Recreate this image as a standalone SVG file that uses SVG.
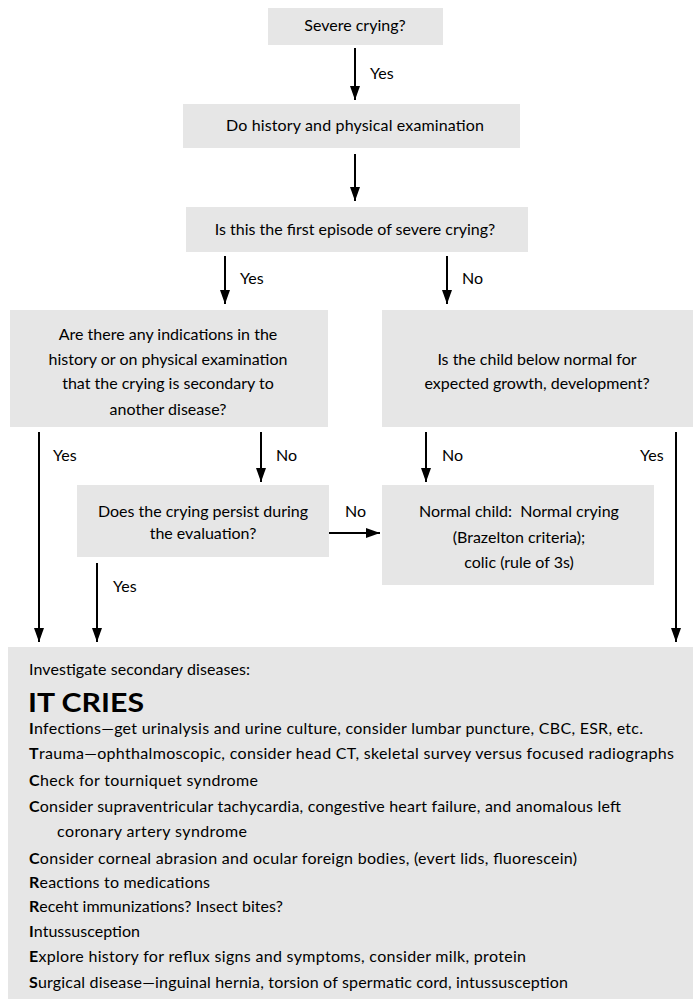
<svg xmlns="http://www.w3.org/2000/svg" width="693" height="999" viewBox="0 0 693 999">
<style>
.box{fill:#e6e6e6}
text{font-family:Lato,"Liberation Sans",sans-serif;fill:#000;font-size:16px}
.c{text-anchor:middle}
.b{font-weight:bold}
.conn line{stroke:#000;stroke-width:2;marker-end:url(#ah)}
</style>
<defs>
<marker id="ah" viewBox="0 0 14 10" refX="14" refY="5" markerWidth="14" markerHeight="10" markerUnits="userSpaceOnUse" orient="auto">
<path d="M0,0 L14,5 L0,10 z" fill="#000"/>
</marker>
</defs>
<rect width="693" height="999" fill="#fff"/>
<g id="n1"><rect class="box" x="268" y="8" width="175" height="37"/><text class="c" x="355" y="31">Severe crying?</text></g>
<g id="n2"><rect class="box" x="183" y="104" width="337" height="44"/><text class="c" x="355" y="131" textLength="258">Do history and physical examination</text></g>
<g id="n3"><rect class="box" x="186" y="207" width="342" height="45"/><text class="c" x="355" y="235">Is this the first episode of severe crying?</text></g>
<g id="n4"><rect class="box" x="10" y="310" width="318" height="117"/>
<text class="c" x="168" y="340">Are there any indications in the</text>
<text class="c" x="168" y="365">history or on physical examination</text>
<text class="c" x="168" y="389">that the crying is secondary to</text>
<text class="c" x="168" y="415">another disease?</text></g>
<g id="n5"><rect class="box" x="382" y="310" width="311" height="117"/>
<text class="c" x="537" y="365">Is the child below normal for</text>
<text class="c" x="537" y="389">expected growth, development?</text></g>
<g id="n6"><rect class="box" x="77" y="485" width="252" height="72"/>
<text class="c" x="203" y="517">Does the crying persist during</text>
<text class="c" x="203" y="539">the evaluation?</text></g>
<g id="n7"><rect class="box" x="382" y="485" width="272" height="100"/>
<text class="c" x="519" y="517">Normal child:&#160; Normal crying</text>
<text class="c" x="519" y="543">(Brazelton criteria);</text>
<text class="c" x="519" y="568">colic (rule of 3s)</text></g>
<g id="n8"><rect class="box" x="8" y="647" width="685" height="352"/>
<text x="29" y="675" textLength="221">Investigate secondary diseases:</text>
<text x="28" y="712" class="b" style="font-size:27px" textLength="116" lengthAdjust="spacingAndGlyphs">IT CRIES</text>
<text x="29" y="734" textLength="614"><tspan class="b">I</tspan>nfections—get urinalysis and urine culture, consider lumbar puncture, CBC, ESR, etc.</text>
<text x="29" y="759" textLength="645"><tspan class="b">T</tspan>rauma—ophthalmoscopic, consider head CT, skeletal survey versus focused radiographs</text>
<text x="29" y="786" textLength="229"><tspan class="b">C</tspan>heck for tourniquet syndrome</text>
<text x="29" y="812" textLength="592"><tspan class="b">C</tspan>onsider supraventricular tachycardia, congestive heart failure, and anomalous left</text>
<text x="57" y="837" textLength="190">coronary artery syndrome</text>
<text x="29" y="864" textLength="548"><tspan class="b">C</tspan>onsider corneal abrasion and ocular foreign bodies, (evert lids, fluorescein)</text>
<text x="29" y="888" textLength="181"><tspan class="b">R</tspan>eactions to medications</text>
<text x="29" y="912" textLength="254"><tspan class="b">R</tspan>eceht immunizations? Insect bites?</text>
<text x="29" y="937" textLength="111"><tspan class="b">I</tspan>ntussusception</text>
<text x="29" y="962" textLength="497"><tspan class="b">E</tspan>xplore history for reflux signs and symptoms, consider milk, protein</text>
<text x="29" y="988" textLength="539"><tspan class="b">S</tspan>urgical disease—inguinal hernia, torsion of spermatic cord, intussusception</text>
</g>
<g id="connectors">
<g class="conn">
<line x1="355" y1="48" x2="355" y2="100"/>
<line x1="355" y1="154" x2="355" y2="201"/>
<line x1="225" y1="256" x2="225" y2="304"/>
<line x1="447" y1="256" x2="447" y2="304"/>
<line x1="39" y1="432" x2="39" y2="642"/>
<line x1="261" y1="432" x2="261" y2="482"/>
<line x1="426" y1="432" x2="426" y2="482"/>
<line x1="676" y1="432" x2="676" y2="642"/>
<line x1="329" y1="533" x2="380" y2="533"/>
<line x1="97" y1="563" x2="97" y2="642"/>
</g>
<text x="370" y="79">Yes</text>
<text x="240" y="284">Yes</text>
<text x="462" y="284">No</text>
<text x="53" y="461">Yes</text>
<text x="276" y="461">No</text>
<text x="442" y="461">No</text>
<text x="640" y="461">Yes</text>
<text x="345" y="517">No</text>
<text x="113" y="592">Yes</text>
</g>
</svg>
